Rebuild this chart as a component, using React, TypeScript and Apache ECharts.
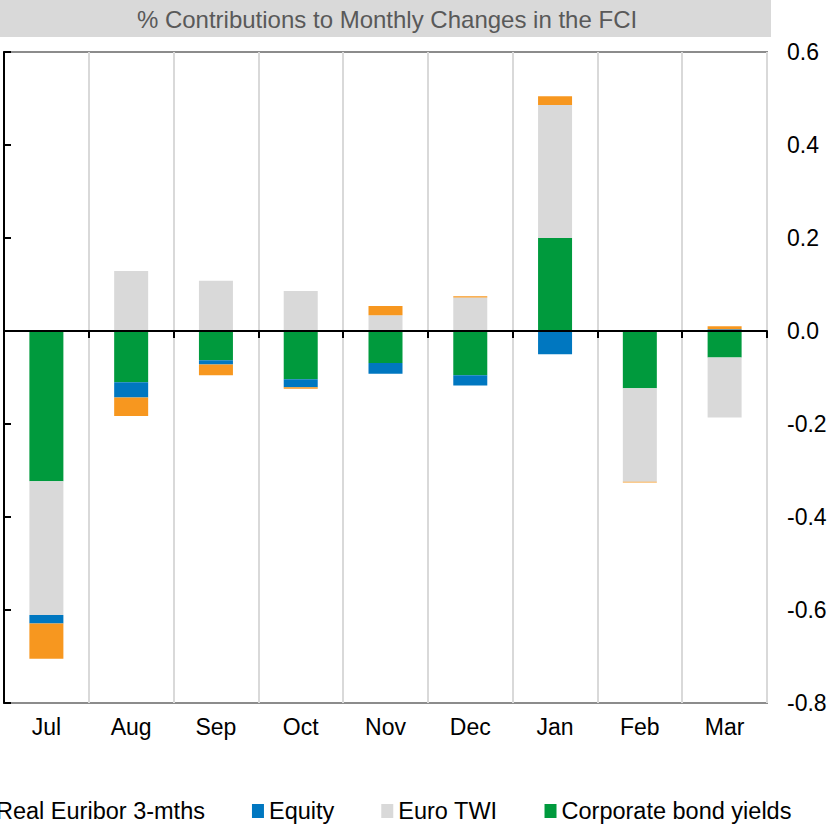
import React, { useEffect, useRef } from "react";
import * as echarts from "echarts";

const categories = ["Jul", "Aug", "Sep", "Oct", "Nov", "Dec", "Jan", "Feb", "Mar"];
const euribor = [-0.076, -0.04, -0.023, -0.003, 0.02, 0.003, 0.019, -0.002, 0.006];
const equity = [-0.018, -0.033, -0.009, -0.017, -0.023, -0.022, -0.05, 0, 0.004];
const euroTwi = [-0.288, 0.129, 0.108, 0.086, 0.034, 0.072, 0.286, -0.201, -0.129];
const corporate = [-0.323, -0.11, -0.063, -0.104, -0.069, -0.095, 0.2, -0.123, -0.057];
const legendOrder = ["Real Euribor 3-mths", "Equity", "Euro TWI", "Corporate bond yields"];
const titleText = "% Contributions to Monthly Changes in the FCI";

const FONT = "'Liberation Sans', Arial, sans-serif";

export default function App() {
  const ref = useRef<HTMLDivElement>(null);
  useEffect(() => {
    document.body.style.margin = "0";
    const chart = echarts.init(ref.current!, null, { renderer: "svg" });
    const bar = (name: string, data: number[], color: string) => ({
      name,
      type: "bar",
      stack: "total",
      data,
      barWidth: 34,
      itemStyle: { color },
      xAxisIndex: 0,
      yAxisIndex: 0,
    });
    chart.setOption({
      animation: false,
      textStyle: { fontFamily: FONT },
      graphic: [
        {
          type: "rect",
          shape: { x: 0, y: 0, width: 771, height: 37 },
          style: { fill: "#D9D9D9" },
        },
        {
          type: "text",
          x: 387,
          y: 19,
          style: {
            text: titleText,
            fontSize: 24,
            fontFamily: FONT,
            fill: "#595959",
            align: "center",
            verticalAlign: "middle",
          },
        },
      ],
      legend: {
        data: legendOrder,
        left: -26,
        top: 794,
        icon: "rect",
        itemWidth: 12,
        itemHeight: 14,
        itemGap: 47,
        textStyle: { fontSize: 23.5, color: "#000", fontFamily: FONT },
      },
      grid: {
        left: 4,
        right: 64,
        top: 52,
        bottom: 122,
        show: true,
        borderColor: "#8C8C8C",
        borderWidth: 2,
      },
      xAxis: [
        {
          type: "category",
          data: categories,
          position: "bottom",
          axisLine: { show: false, onZero: false },
          axisTick: { show: false },
          axisLabel: { fontSize: 23, color: "#000", margin: 12, fontFamily: FONT },
          splitLine: { show: true, lineStyle: { color: "#D9D9D9", width: 2 } },
        },
        {
          type: "category",
          data: categories,
          position: "bottom",
          z: 10,
          axisLine: { show: true, onZero: true, lineStyle: { color: "#000", width: 2 } },
          axisTick: { show: true, length: 7, lineStyle: { color: "#000", width: 2 } },
          axisLabel: { show: false },
          splitLine: { show: false },
        },
      ],
      yAxis: [
        {
          type: "value",
          position: "right",
          min: -0.8,
          max: 0.6,
          interval: 0.2,
          axisLine: { show: false },
          axisTick: { show: false },
          splitLine: { show: false },
          axisLabel: {
            fontSize: 23,
            color: "#000",
            margin: 20,
            fontFamily: FONT,
            formatter: (v: number) => v.toFixed(1),
          },
        },
        {
          type: "value",
          position: "left",
          min: -0.8,
          max: 0.6,
          interval: 0.2,
          z: 10,
          axisLine: { show: true, lineStyle: { color: "#000", width: 2 } },
          axisTick: { show: true, inside: true, length: 7, lineStyle: { color: "#000", width: 2 } },
          axisLabel: { show: false },
          splitLine: { show: false },
        },
      ],
      series: [
        bar("Corporate bond yields", corporate, "#009A3D"),
        bar("Euro TWI", euroTwi, "#D9D9D9"),
        bar("Equity", equity, "#0077C0"),
        bar("Real Euribor 3-mths", euribor, "#F7971F"),
      ],
    });
    return () => chart.dispose();
  }, []);
  return <div ref={ref} style={{ width: 831, height: 825 }} />;
}
